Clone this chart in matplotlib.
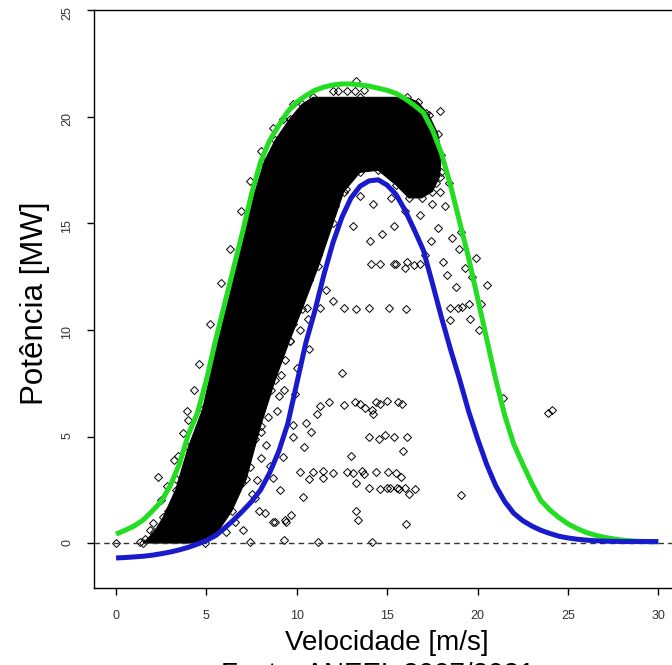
import matplotlib
matplotlib.use("Agg")
import matplotlib.pyplot as plt

plt.rcParams['font.family'] = ['Liberation Sans', 'DejaVu Sans']

# upper (green) and lower (blue) envelope curves, read every 0.5 m/s
vel = [i * 0.5 for i in range(61)]
green = [0.42, 0.6, 0.8, 1.08, 1.5, 1.95, 2.7, 3.7, 5.1, 6.1,
         7.65, 9.5, 11.2, 12.9, 14.6, 16.4, 17.9, 18.9, 19.6, 20.25,
         20.7, 21.0, 21.25, 21.4, 21.5, 21.55, 21.55, 21.5, 21.45, 21.35,
         21.25, 21.1, 20.85, 20.55, 20.2, 19.4, 18.3, 16.8, 15.1, 13.4,
         11.5, 9.6, 7.7, 6.0, 4.65, 3.7, 2.8, 2.0, 1.55, 1.2,
         0.9, 0.68, 0.5, 0.37, 0.27, 0.2, 0.14, 0.1, 0.08, 0.06, 0.05]
blue = [-0.7, -0.68, -0.65, -0.62, -0.57, -0.5, -0.42, -0.32, -0.2, -0.05,
        0.12, 0.35, 0.7, 1.08, 1.5, 1.95, 2.5, 3.3, 4.3, 5.6,
        7.5, 9.4, 10.9, 12.6, 14.1, 15.3, 16.2, 16.75, 17.0, 17.05,
        16.8, 16.35, 15.6, 14.7, 13.75, 12.2, 10.6, 9.1, 7.7, 6.2,
        4.9, 3.7, 2.7, 1.95, 1.4, 1.05, 0.8, 0.6, 0.45, 0.32,
        0.24, 0.18, 0.14, 0.11, 0.09, 0.08, 0.07, 0.07, 0.07, 0.07, 0.07]

# outline of the dense cloud of measurements
band_v = [1.5, 2.1, 2.6, 3.3, 4.0, 4.8, 5.15, 5.65, 6.15, 6.65, 7.15, 7.65, 8.2,
          8.8, 9.6, 10.3, 10.9, 13.5, 16.1, 16.7, 17.3, 17.8, 18.0, 17.9, 17.5,
          16.9, 16.2, 15.5, 14.5, 13.5, 12.6, 12.0, 11.2, 10.3, 9.6, 8.8, 8.0,
          7.2, 6.4, 5.6, 4.9]
band_p = [0.0, 0.5, 1.2, 2.5, 4.5, 6.3, 7.65, 9.5, 11.2, 12.9, 14.6, 16.4, 17.9,
          18.9, 19.9, 20.6, 20.92, 20.92, 20.92, 20.7, 20.1, 19.2, 18.2, 17.2, 16.5,
          16.2, 16.2, 16.8, 17.5, 17.4, 16.5, 15.0, 13.0, 11.0, 9.5, 7.65, 5.5,
          3.0, 1.5, 0.5, 0.0]

# scattered measurements outside the dense cloud
out_v = [0.0, 1.33, 2.07, 2.34, 3.45, 3.7, 4.0, 7.4, 9.3, 11.2, 14.15, 8.8, 9.4,
         13.4, 16.05, 13.3, 8.25, 8.7, 9.35, 9.7, 7.7, 7.8, 6.95, 7.4, 7.2, 8.0,
         8.7, 9.07, 9.26, 9.8, 9.8, 9.0, 10.37, 10.7, 11.45, 13.3, 16.2, 19.07,
         10.2, 10.9, 11.45, 12.0, 12.8, 13.1, 13.6, 13.7, 14.4, 15.07, 15.5, 15.75,
         14.0, 14.6, 15.0, 15.16, 15.53, 15.68, 16.0, 16.55,
         10.4, 13.0, 15.9, 14.0, 14.55, 14.9, 15.35, 16.1,
         10.5, 10.8, 11.1, 14.2,
         11.3, 11.8, 12.6, 13.2, 13.5, 13.8, 14.15, 14.4, 14.6, 15.0, 15.6, 15.8,
         12.5, 10.7, 12.0,
         10.55, 11.3, 12.6, 13.3, 14.0, 15.1, 16.05, 18.5, 18.9, 19.15, 19.5, 18.5,
         14.1, 14.6, 15.4, 15.5, 16.1, 16.5, 16.8, 16.0,
         21.4, 23.9, 24.1,
         12.7, 13.5, 14.2, 15.2, 16.0, 13.1, 15.4, 14.05, 14.7,
         17.4, 17.8, 17.1, 18.1, 17.5, 16.8, 18.3, 17.9, 18.2, 18.6, 19.0, 18.8,
         19.3, 19.7, 20.2, 19.6, 20.1, 17.6, 18.0, 17.2, 17.5, 16.9, 17.7, 19.1,
         18.4, 20.5, 19.9,
         13.3, 12.8, 12.3, 12.0, 13.2, 13.7, 17.9, 16.45, 16.7, 17.15, 9.8, 9.26,
         10.2, 10.7, 9.96, 9.6, 10.2, 9.35, 9.1, 11.2, 11.6, 10.0, 10.6, 11.0,
         11.6, 12.1, 10.9, 10.3, 9.8, 9.4, 8.9, 8.6, 8.4, 8.0, 7.7, 8.3, 11.3,
         9.9, 10.5,
         4.6, 5.2, 5.8, 6.3, 6.9, 7.4, 8.0, 8.7, 4.3, 3.9, 3.2, 2.8, 2.5, 1.9,
         1.6, 2.9, 3.3,
         8.2, 8.9, 9.3, 9.9, 8.5, 7.5, 6.6, 7.0, 7.9, 6.1]
out_p = [0.0, 0.05, 0.92, 3.1, 4.08, 5.18, 5.77, 0.03, 0.14, 0.06, 0.03, 1.0, 1.0,
         1.1, 0.89, 1.5, 1.39, 1.0, 1.08, 1.31, 2.1, 2.96, 2.8, 3.58, 4.52, 3.98,
         3.04, 2.49, 4.02, 5.0, 5.54, 6.9, 2.17, 3.0, 3.05, 2.8, 2.28, 2.24,
         3.35, 3.35, 3.4, 3.3, 3.35, 3.3, 3.4, 3.25, 3.35, 3.35, 3.3, 3.1,
         2.57, 2.55, 2.6, 2.57, 2.6, 2.55, 2.57, 2.55,
         4.52, 4.08, 4.33, 5.0, 4.9, 5.05, 5.0, 5.0,
         5.62, 5.23, 6.06, 6.04,
         6.43, 6.63, 6.48, 6.63, 6.55, 6.32, 6.24, 6.63, 6.52, 6.68, 6.63, 6.55,
         8.0, 9.1, 11.35,
         11.05, 11.05, 11.05, 11.0, 11.05, 11.05, 11.0, 11.05, 11.05, 11.1, 11.2, 10.45,
         13.1, 13.1, 13.1, 13.1, 13.2, 13.05, 13.1, 12.9,
         6.8, 6.1, 6.25,
         16.6, 16.3, 15.9, 16.2, 15.6, 14.9, 14.9, 14.2, 14.5,
         14.2, 14.8, 13.5, 13.2, 15.9, 15.4, 12.6, 16.5, 15.8, 14.3, 13.8, 12.0,
         12.9, 12.5, 11.2, 10.5, 10.0, 17.8, 17.4, 18.6, 19.0, 19.6, 16.9, 14.6,
         16.9, 12.1, 13.4,
         21.7, 21.2, 21.2, 21.2, 21.2, 21.25, 20.3, 20.5, 20.36, 20.2, 20.6, 19.9,
         13.05, 12.35, 11.4, 9.5, 10.0, 8.6, 7.9, 13.5, 11.9, 8.2, 10.5, 14.4,
         15.3, 15.8, 12.9, 11.8, 10.3, 9.7, 8.5, 7.2, 5.9, 5.2, 4.9, 4.6, 14.8,
         12.6, 13.9,
         8.4, 10.3, 12.2, 13.8, 15.6, 17.0, 18.4, 19.5, 7.2, 6.2, 3.9, 2.7, 2.0, 0.6,
         0.2, 1.5, 3.0,
         6.8, 6.2, 7.2, 7.0, 3.6, 2.3, 1.0, 0.6, 1.5, 0.5]

fig = plt.figure(figsize=(6.72, 6.65), dpi=100)
ax = fig.add_axes([94 / 672, 77 / 665, 586 / 672, 578 / 665])

ax.fill(band_v, band_p, color='black', lw=0.8, zorder=2)
ax.plot(band_v, band_p, 'D', ms=4, mfc='none', mec='black', mew=0.7, zorder=2)
ax.plot(out_v, out_p, 'D', ms=4, mfc='none', mec='black', mew=0.7, zorder=2)
ax.axhline(0, color='#333333', lw=1, ls=(0, (4, 3)), zorder=3)
ax.plot(vel, green, color='#22dd22', lw=3.6, solid_capstyle='butt', zorder=4)
ax.plot(vel, blue, color='#1a1acd', lw=3.6, solid_capstyle='butt', zorder=4)

ax.set_xlim(-1.22, 31.2)
ax.set_ylim(-2.11, 25.02)
ax.set_xticks(range(0, 31, 5))
ax.set_yticks(range(0, 26, 5))
ax.tick_params(length=5, width=1, labelsize=9, labelcolor='#333333')
ax.tick_params(axis='x', pad=11)
ax.tick_params(axis='y', pad=10, labelrotation=90)
for s in ax.spines.values():
    s.set_linewidth(1)

fig.text(35 / 672, 1 - 303 / 665, 'Potência [MW]', rotation=90,
         ha='center', va='center', fontsize=22.5)
fig.text(387 / 672, 15 / 665, 'Velocidade [m/s]', ha='center', va='baseline',
         fontsize=20)
fig.text(378 / 672, -17 / 665, 'Fonte: ANEEL 2007/2021', ha='center',
         va='baseline', fontsize=20)

fig.savefig('out.png', dpi=100)
